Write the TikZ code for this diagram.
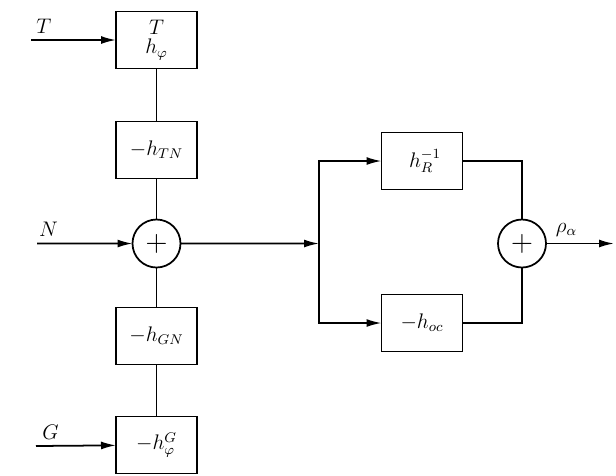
\documentclass[tikz,border=0pt]{standalone}
\usepackage{tikz}
\usetikzlibrary{arrows.meta,positioning}

\begin{document}
\begin{tikzpicture}[
  x=0.2mm, y=-0.2mm,
  node distance=10mm,
  font=\large,
  box/.style={draw, line width=1pt, minimum width=16.2mm, minimum height=11.4mm, inner sep=2pt, outer sep=0pt, align=center},
  summer/.style={draw, circle, line width=1pt, minimum size=9.6mm, inner sep=0pt, outer sep=0pt},
  arrow/.style={-{Latex[length=3mm,width=1.6mm]}, line width=1pt},
  link/.style={line width=1pt}
]
\useasboundingbox (0,0) rectangle (616,475);

% left column
\node[box] (hft) at (156.5,40) {$T$\\[-3pt]$h_{\varphi}$};
\node[box, below=10.6mm of hft] (htn) {$-h_{TN}$};
\node[summer, below=8.2mm of htn] (suml) {\LARGE$+$};
\node[box, below=8mm of suml] (hgn) {$-h_{GN}$};
\node[box, below=10.4mm of hgn] (hfg) {$-h^{G}_{\varphi}$};

% right part
\coordinate (junc) at (319,243.5);
\node[box] (hr) at (422,161) {\;$h^{-1}_{R}$};
\node[box] (hoc) at (422,323) {$-h_{oc}$};
\node[summer] (sumr) at (522,243.5) {\LARGE$+$};

% inputs and output
\coordinate (tin) at (31,40);
\coordinate (nin) at (37,243.5);
\coordinate (gin) at (36,446);
\coordinate (out) at (614,243.5);

\draw[arrow] (tin) -- node[above, pos=0.15] (lt) {$T$} (hft);
\draw[arrow] (nin) -- node[above, pos=0.12] (ln) {$N$} (suml);
\draw[arrow] (gin) -- node[above, pos=0.18] (lg) {$G$} (hfg);

\draw[link] (hft) -- (htn);
\draw[link] (htn) -- (suml);
\draw[link] (suml) -- (hgn);
\draw[link] (hgn) -- (hfg);

\draw[arrow] (suml) -- (junc);
\draw[arrow] (junc) |- (hr);
\draw[arrow] (junc) |- (hoc);
\draw[link] (hr) -| (sumr);
\draw[link] (hoc) -| (sumr);
\draw[arrow] (sumr) -- node[above, pos=0.3] (lrho) {$\rho_{\alpha}$} (out);

\end{tikzpicture}
\end{document}
